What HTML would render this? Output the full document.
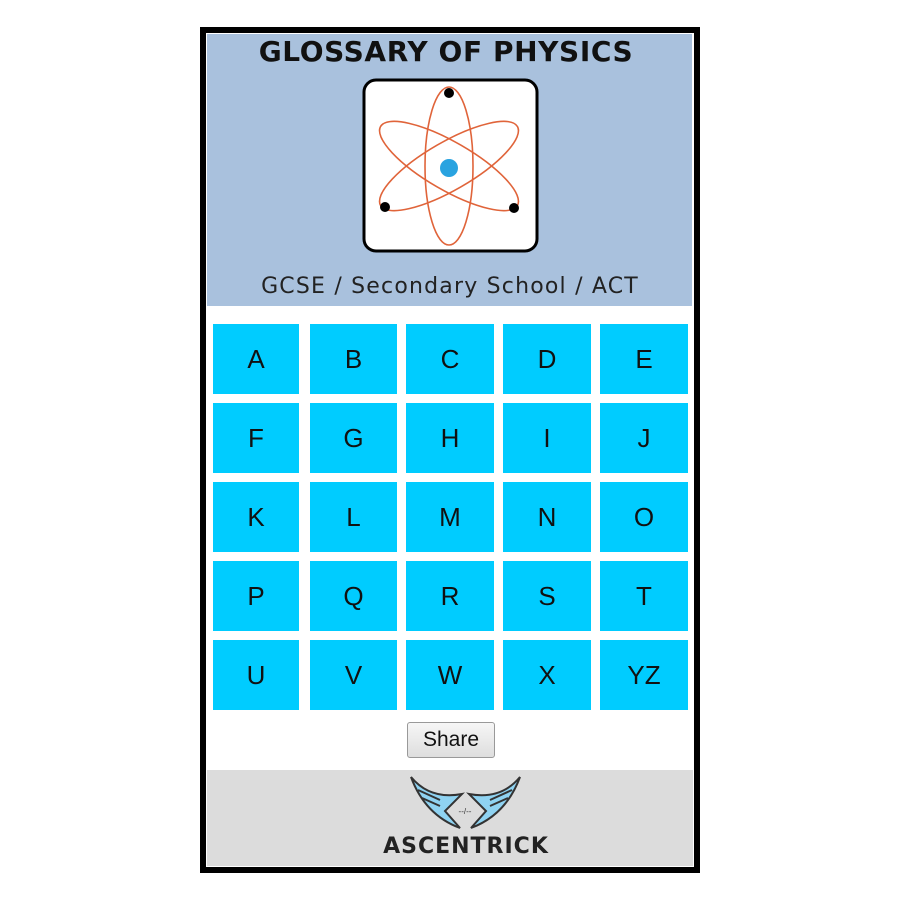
<!DOCTYPE html>
<html><head><style>
body{margin:0;width:900px;height:900px;background:#fff;position:relative;font-family:"Liberation Sans",sans-serif}
.frame{position:absolute;left:200px;top:27px;width:488px;height:834px;border:6px solid #000;background:#fff}
.hdr{position:absolute;left:1px;top:1px;width:485px;height:272px;background:#a9c1dd}
.t{position:absolute;top:35px;left:200px;width:500px;text-align:center;font-family:"DejaVu Sans",sans-serif;font-weight:bold;font-size:28px;color:#111;letter-spacing:0.6px;transform:translateX(-4px)}
.sub{position:absolute;top:274px;left:200px;width:500px;text-align:center;font-family:"DejaVu Sans",sans-serif;font-size:22px;color:#222;letter-spacing:1.2px}
.c{position:absolute;background:#00ccff;display:flex;align-items:center;justify-content:center;font-size:26px;color:#111;height:70px}
.btn{position:absolute;left:407px;top:722px;width:86px;height:34px;border:1px solid #999;border-radius:3px;background:linear-gradient(#f6f6f6,#dedede);font-size:21px;display:flex;align-items:center;justify-content:center;color:#111}
.ft{position:absolute;left:207px;top:770px;width:486px;height:96px;background:#dcdcdc}
.brand{position:absolute;top:834px;left:216px;width:500px;text-align:center;font-family:"DejaVu Sans",sans-serif;font-weight:bold;font-size:22px;color:#222;letter-spacing:1px}
</style></head><body>
<div class="frame"><div class="hdr"></div></div>
<div class="t">GLOSSARY OF PHYSICS</div>
<svg style="position:absolute;left:0;top:0" width="900" height="900">
<rect x="364" y="80" width="173" height="171" rx="12" fill="#fff" stroke="#000" stroke-width="3"/>
<g fill="none" stroke="#e0643a" stroke-width="1.6">
<ellipse cx="449" cy="166" rx="24" ry="79"/>
<ellipse cx="449" cy="166" rx="24" ry="79" transform="rotate(60 449 166)"/>
<ellipse cx="449" cy="166" rx="24" ry="79" transform="rotate(-60 449 166)"/>
</g>
<circle cx="449" cy="168" r="9" fill="#29a3e0"/>
<circle cx="449" cy="93" r="5" fill="#000"/>
<circle cx="385" cy="207" r="5" fill="#000"/>
<circle cx="514" cy="208" r="5" fill="#000"/>
</svg>
<div class="sub">GCSE / Secondary School / ACT</div>
<div class="c" style="left:213px;top:324px;width:86px">A</div><div class="c" style="left:310px;top:324px;width:87px">B</div><div class="c" style="left:406px;top:324px;width:88px">C</div><div class="c" style="left:503px;top:324px;width:88px">D</div><div class="c" style="left:600px;top:324px;width:88px">E</div>
<div class="c" style="left:213px;top:403px;width:86px">F</div><div class="c" style="left:310px;top:403px;width:87px">G</div><div class="c" style="left:406px;top:403px;width:88px">H</div><div class="c" style="left:503px;top:403px;width:88px">I</div><div class="c" style="left:600px;top:403px;width:88px">J</div>
<div class="c" style="left:213px;top:482px;width:86px">K</div><div class="c" style="left:310px;top:482px;width:87px">L</div><div class="c" style="left:406px;top:482px;width:88px">M</div><div class="c" style="left:503px;top:482px;width:88px">N</div><div class="c" style="left:600px;top:482px;width:88px">O</div>
<div class="c" style="left:213px;top:561px;width:86px">P</div><div class="c" style="left:310px;top:561px;width:87px">Q</div><div class="c" style="left:406px;top:561px;width:88px">R</div><div class="c" style="left:503px;top:561px;width:88px">S</div><div class="c" style="left:600px;top:561px;width:88px">T</div>
<div class="c" style="left:213px;top:640px;width:86px">U</div><div class="c" style="left:310px;top:640px;width:87px">V</div><div class="c" style="left:406px;top:640px;width:88px">W</div><div class="c" style="left:503px;top:640px;width:88px">X</div><div class="c" style="left:600px;top:640px;width:88px">YZ</div>
<div class="btn">Share</div>
<div class="ft"></div>
<svg style="position:absolute;left:0;top:0" width="900" height="900">
<path d="M411 777 Q430 800 462 794 L445 811 L460 828 Q425 815 411 777Z" fill="#8fd3f2" stroke="#333" stroke-width="2"/>
<path d="M520 777 Q501 800 469 794 L486 811 L471 828 Q506 815 520 777Z" fill="#8fd3f2" stroke="#333" stroke-width="2"/>
<path d="M418 790 L440 800 M422 798 L440 806 M490 800 L512 790 M490 806 L508 798" stroke="#333" stroke-width="2"/>
<text x="465" y="814" font-size="8" text-anchor="middle" fill="#333" font-family="Liberation Sans">--/--</text>
</svg>
<div class="brand">ASCENTRICK</div>
</body></html>
